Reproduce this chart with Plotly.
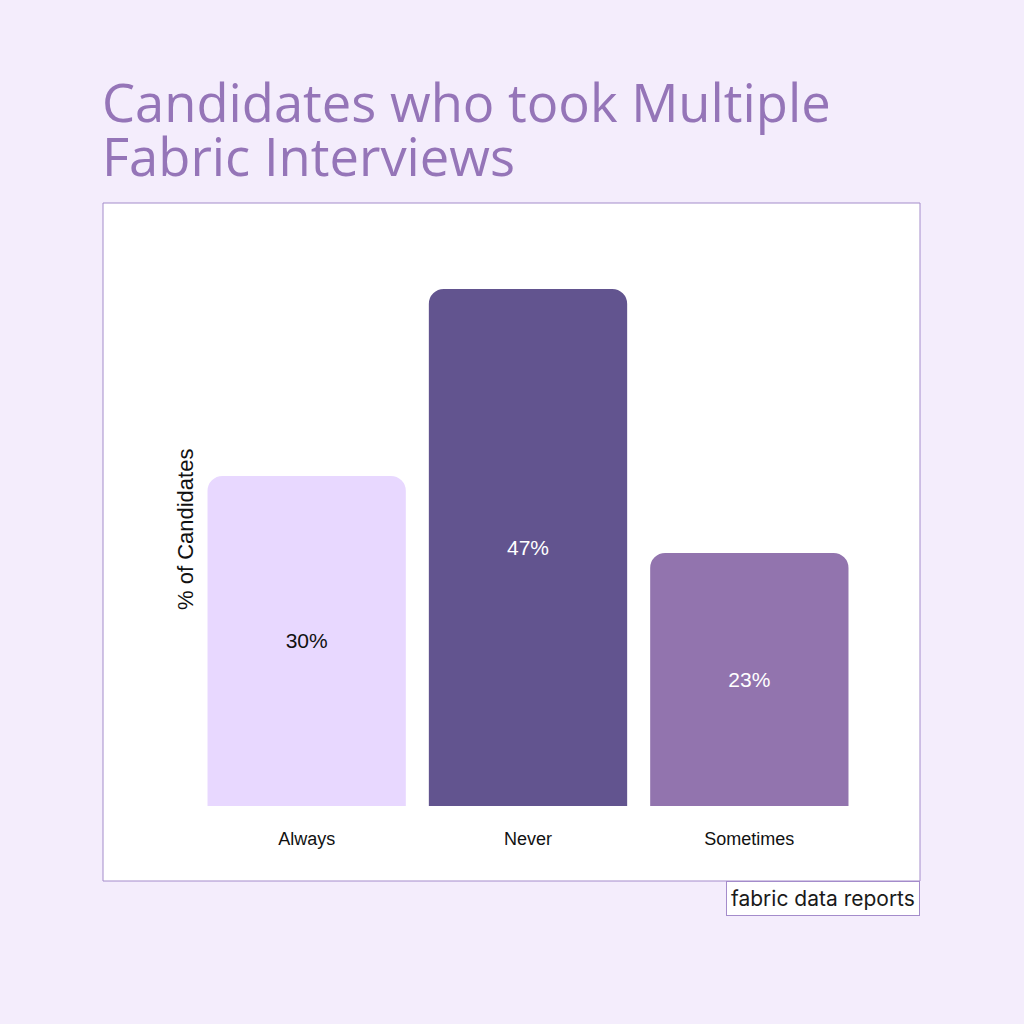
import plotly.graph_objects as go

# data
categories = ["Always", "Never", "Sometimes"]
percent = [30, 47, 23]
bar_colors = ["#e8d8ff", "#62548f", "#9274ae"]
text_colors = ["#111111", "#ffffff", "#ffffff"]
title_lines = ["Candidates who took Multiple", "Fabric Interviews"]

bg = "#f4edfc"
title_color = "#9575b8"
border_color = "#a48ccb"

W = H = 1024
plot_l, plot_r, plot_t, plot_b = 196, 860, 230, 806


def px_x(x):
    return (x - plot_l) / (plot_r - plot_l)


def px_y(y):
    return (plot_b - y) / (plot_b - plot_t)


fig = go.Figure(
    go.Bar(
        x=categories,
        y=percent,
        text=[f"{v}%" for v in percent],
        textposition="inside",
        insidetextanchor="middle",
        textfont=dict(family="Liberation Sans, Arial, sans-serif", size=21, color=text_colors),
        marker=dict(color=bar_colors, cornerradius=15, line=dict(width=0)),
        hoverinfo="skip",
    )
)

# white panel behind the plot
fig.add_shape(
    type="rect", xref="paper", yref="paper",
    x0=px_x(103), x1=px_x(920), y0=px_y(881), y1=px_y(203),
    fillcolor="white", line=dict(color=border_color, width=1), layer="below",
)

# title, one annotation per line for tighter leading
for i, line in enumerate(title_lines):
    fig.add_annotation(
        text=line, xref="paper", yref="paper",
        x=px_x(100), y=px_y(102 + 54 * i), xanchor="left", yanchor="middle",
        showarrow=False,
        font=dict(family="Open Sans, Lato, sans-serif", size=52.5, color=title_color),
    )

# y axis title
fig.add_annotation(
    text="% of Candidates", xref="paper", yref="paper",
    x=px_x(185), y=px_y(530), xanchor="center", yanchor="middle",
    textangle=-90, showarrow=False,
    font=dict(family="Liberation Sans, Arial, sans-serif", size=22, color="#111111"),
)

# "fabric data reports" tag
fig.add_annotation(
    text="fabric data reports",
    xref="paper", yref="paper",
    x=px_x(920), y=px_y(881), xanchor="right", yanchor="top",
    showarrow=False,
    font=dict(family="Inter, Roboto, sans-serif", size=21, color="#1a1a1a"),
    bgcolor="white", bordercolor=border_color, borderwidth=1, borderpad=4,
)

fig.update_layout(
    width=W, height=H,
    paper_bgcolor=bg,
    plot_bgcolor="white",
    margin=dict(l=plot_l, r=W - plot_r, t=plot_t, b=H - plot_b),
    bargap=0.104,
    showlegend=False,
    xaxis=dict(
        showgrid=False, zeroline=False, showline=False, ticks="",
        ticklabelstandoff=20,
        tickfont=dict(family="Liberation Sans, Arial, sans-serif", size=18, color="#111111"),
    ),
    yaxis=dict(
        range=[0, 52.36],
        showgrid=False, zeroline=False, showline=False,
        showticklabels=False, ticks="",
    ),
)

fig.write_html("out.html", config={"displayModeBar": False},
               post_script="document.body.style.margin='0';")
